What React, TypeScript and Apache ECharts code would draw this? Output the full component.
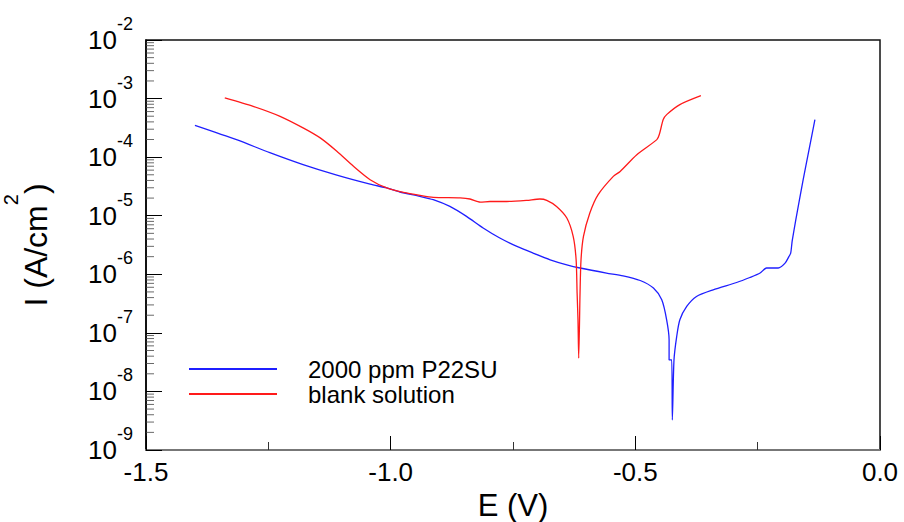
import React, { useEffect, useRef } from "react";
import * as echarts from "echarts";

// Potential E (V) and current I (A/cm^2)
const p22E = [-1.400, -1.315, -1.247, -1.179, -1.110, -1.042, -1.008, -0.981, -0.940, -0.913,
  -0.879, -0.845, -0.811, -0.777, -0.742, -0.709, -0.674, -0.640, -0.613, -0.559,
  -0.525, -0.490, -0.463, -0.446, -0.436, -0.431, -0.431, -0.4257, -0.4244, -0.421,
  -0.4155, -0.409, -0.395, -0.375, -0.341, -0.293, -0.266, -0.245, -0.232, -0.219,
  -0.208, -0.194, -0.186, -0.1825, -0.180, -0.179, -0.172, -0.157, -0.145, -0.133];
const p22I = [3.50e-4, 1.99e-4, 1.19e-4, 7.44e-5, 4.92e-5, 3.45e-5, 2.98e-5, 2.54e-5, 2.14e-5, 1.88e-5,
  1.44e-5, 9.73e-6, 6.17e-6, 4.16e-6, 2.99e-6, 2.30e-6, 1.77e-6, 1.45e-6, 1.28e-6, 1.05e-6,
  9.42e-7, 7.83e-7, 5.81e-7, 3.66e-7, 1.67e-7, 7.59e-8, 3.45e-8, 3.45e-8, 3.26e-9, 3.45e-8,
  8.65e-8, 1.67e-7, 2.82e-7, 4.18e-7, 5.43e-7, 7.24e-7, 8.81e-7, 1.05e-6, 1.28e-6, 1.28e-6,
  1.28e-6, 1.55e-6, 2.02e-6, 2.30e-6, 3.41e-6, 3.89e-6, 8.55e-6, 4.12e-5, 1.34e-4, 4.38e-4];

const blankE = [-1.339, -1.281, -1.226, -1.179, -1.144, -1.110, -1.076, -1.042, -1.008, -0.974,
  -0.940, -0.913, -0.858, -0.838, -0.817, -0.797, -0.763, -0.722, -0.695, -0.681,
  -0.661, -0.640, -0.627, -0.621, -0.619, -0.6172, -0.6157, -0.613, -0.611, -0.606,
  -0.593, -0.576, -0.545, -0.531, -0.497, -0.456, -0.451, -0.443, -0.436, -0.409, -0.366];
const blankI = [1.03e-3, 7.38e-4, 4.98e-4, 3.16e-4, 2.13e-4, 1.26e-4, 6.97e-5, 4.12e-5, 2.98e-5, 2.50e-5,
  2.22e-5, 2.06e-5, 2.01e-5, 1.93e-5, 1.71e-5, 1.75e-5, 1.75e-5, 1.83e-5, 1.93e-5, 1.83e-5,
  1.44e-5, 9.14e-6, 4.43e-6, 1.77e-6, 4.78e-7, 1.67e-7, 3.70e-8, 4.78e-7, 1.77e-6, 4.43e-6,
  1.11e-5, 2.29e-5, 4.70e-5, 5.71e-5, 1.10e-4, 1.99e-4, 2.43e-4, 4.38e-4, 5.32e-4, 7.89e-4, 1.12e-3];

const seriesNames = ["2000 ppm P22SU", "blank solution"];
const xMin = -1.5;
const xMax = 0.0;
const xStep = 0.5;
const yMinExp = -9;
const yMaxExp = -2;
const minorMultipliers = [2, 3, 4, 5, 6, 7, 8, 9];

const FONT = "'Liberation Sans', Arial, Helvetica, sans-serif";

export default function App() {
  const ref = useRef<HTMLDivElement>(null);
  useEffect(() => {
    document.body.style.margin = "0";
    const chart = echarts.init(ref.current!, null, { renderer: "svg" });

    const minorTicks: number[][] = [];
    for (let e = yMinExp; e < yMaxExp; e++) {
      for (const m of minorMultipliers) minorTicks.push([xMin, m * Math.pow(10, e)]);
    }

    chart.setOption({
      animation: false,
      backgroundColor: "#fff",
      textStyle: { fontFamily: FONT },
      grid: {
        left: 146, right: 24, top: 40, bottom: 72,
        outerBoundsMode: "none",
        containLabel: false,
        show: true, borderColor: "#111", borderWidth: 1.5, backgroundColor: "transparent",
      },
      legend: {
        data: seriesNames,
        icon: "rect",
        orient: "vertical",
        left: 184,
        top: 352,
        itemWidth: 88,
        itemHeight: 2,
        itemGap: 1,
        textStyle: { fontSize: 24, color: "#000", fontFamily: FONT, lineHeight: 24, padding: [0, 0, 0, 26] },
      },
      xAxis: {
        type: "value",
        min: xMin, max: xMax, interval: xStep,
        axisLine: { show: true, onZero: false, lineStyle: { color: "#777", width: 2 } },
        axisTick: { show: true, inside: true, length: 14, lineStyle: { color: "#000", width: 1 } },
        minorTick: { show: true, splitNumber: 2, length: 8, lineStyle: { color: "#333", width: 1 } },
        splitLine: { show: false },
        axisLabel: {
          formatter: (v: number) => v.toFixed(1),
          fontSize: 26, color: "#000", margin: 9, fontFamily: FONT,
          showMinLabel: true, showMaxLabel: true,
        },
        name: "E (V)",
        nameLocation: "middle",
        nameGap: 36,
        nameTextStyle: { fontSize: 31, color: "#000", fontFamily: FONT },
      },
      yAxis: {
        type: "log", logBase: 10, position: "left",
        min: Math.pow(10, yMinExp), max: Math.pow(10, yMaxExp), interval: 1,
        axisLine: { show: true, onZero: false, lineStyle: { color: "#000", width: 1.5 } },
        axisTick: { show: true, inside: true, length: 16, lineStyle: { color: "#000", width: 1 } },
        splitLine: { show: false },
        axisLabel: {
          margin: 13,
          showMinLabel: true, showMaxLabel: true,
          formatter: (v: number) => `{b|10}{s|${Math.round(Math.log10(v))}}`,
          rich: {
            b: { fontSize: 26, color: "#000", fontFamily: FONT },
            s: { fontSize: 18, color: "#000", fontFamily: FONT, padding: [0, 0, 32, 0] },
          },
        },
        name: "I (A/cm{s|2})",
        nameLocation: "middle",
        nameRotate: 90,
        nameGap: 75,
        nameTextStyle: {
          fontSize: 32, color: "#000", fontFamily: FONT,
          rich: {
            s: { fontSize: 20, color: "#000", fontFamily: FONT, padding: [0, 0, 50, 0] },
          },
        },
      },
      series: [
        {
          name: seriesNames[0], type: "line", symbol: "none", smooth: 0.25,
          data: p22E.map((e, i) => [e, p22I[i]]),
          lineStyle: { color: "#1f1fff", width: 1.3 }, itemStyle: { color: "#1f1fff" },
          z: 3,
        },
        {
          name: seriesNames[1], type: "line", symbol: "none", smooth: 0.25,
          data: blankE.map((e, i) => [e, blankI[i]]),
          lineStyle: { color: "#ff1a1a", width: 1.3 }, itemStyle: { color: "#ff1a1a" },
          z: 4,
        },
        {
          name: "minor ticks",
          type: "scatter", silent: true, clip: false, z: 6,
          data: minorTicks,
          symbol: "rect",
          symbolSize: [8, 1],
          symbolOffset: [4, 0],
          itemStyle: { color: "#444" },
        },
      ],
    });
    return () => chart.dispose();
  }, []);
  return <div ref={ref} style={{ width: 904, height: 522 }} />;
}
